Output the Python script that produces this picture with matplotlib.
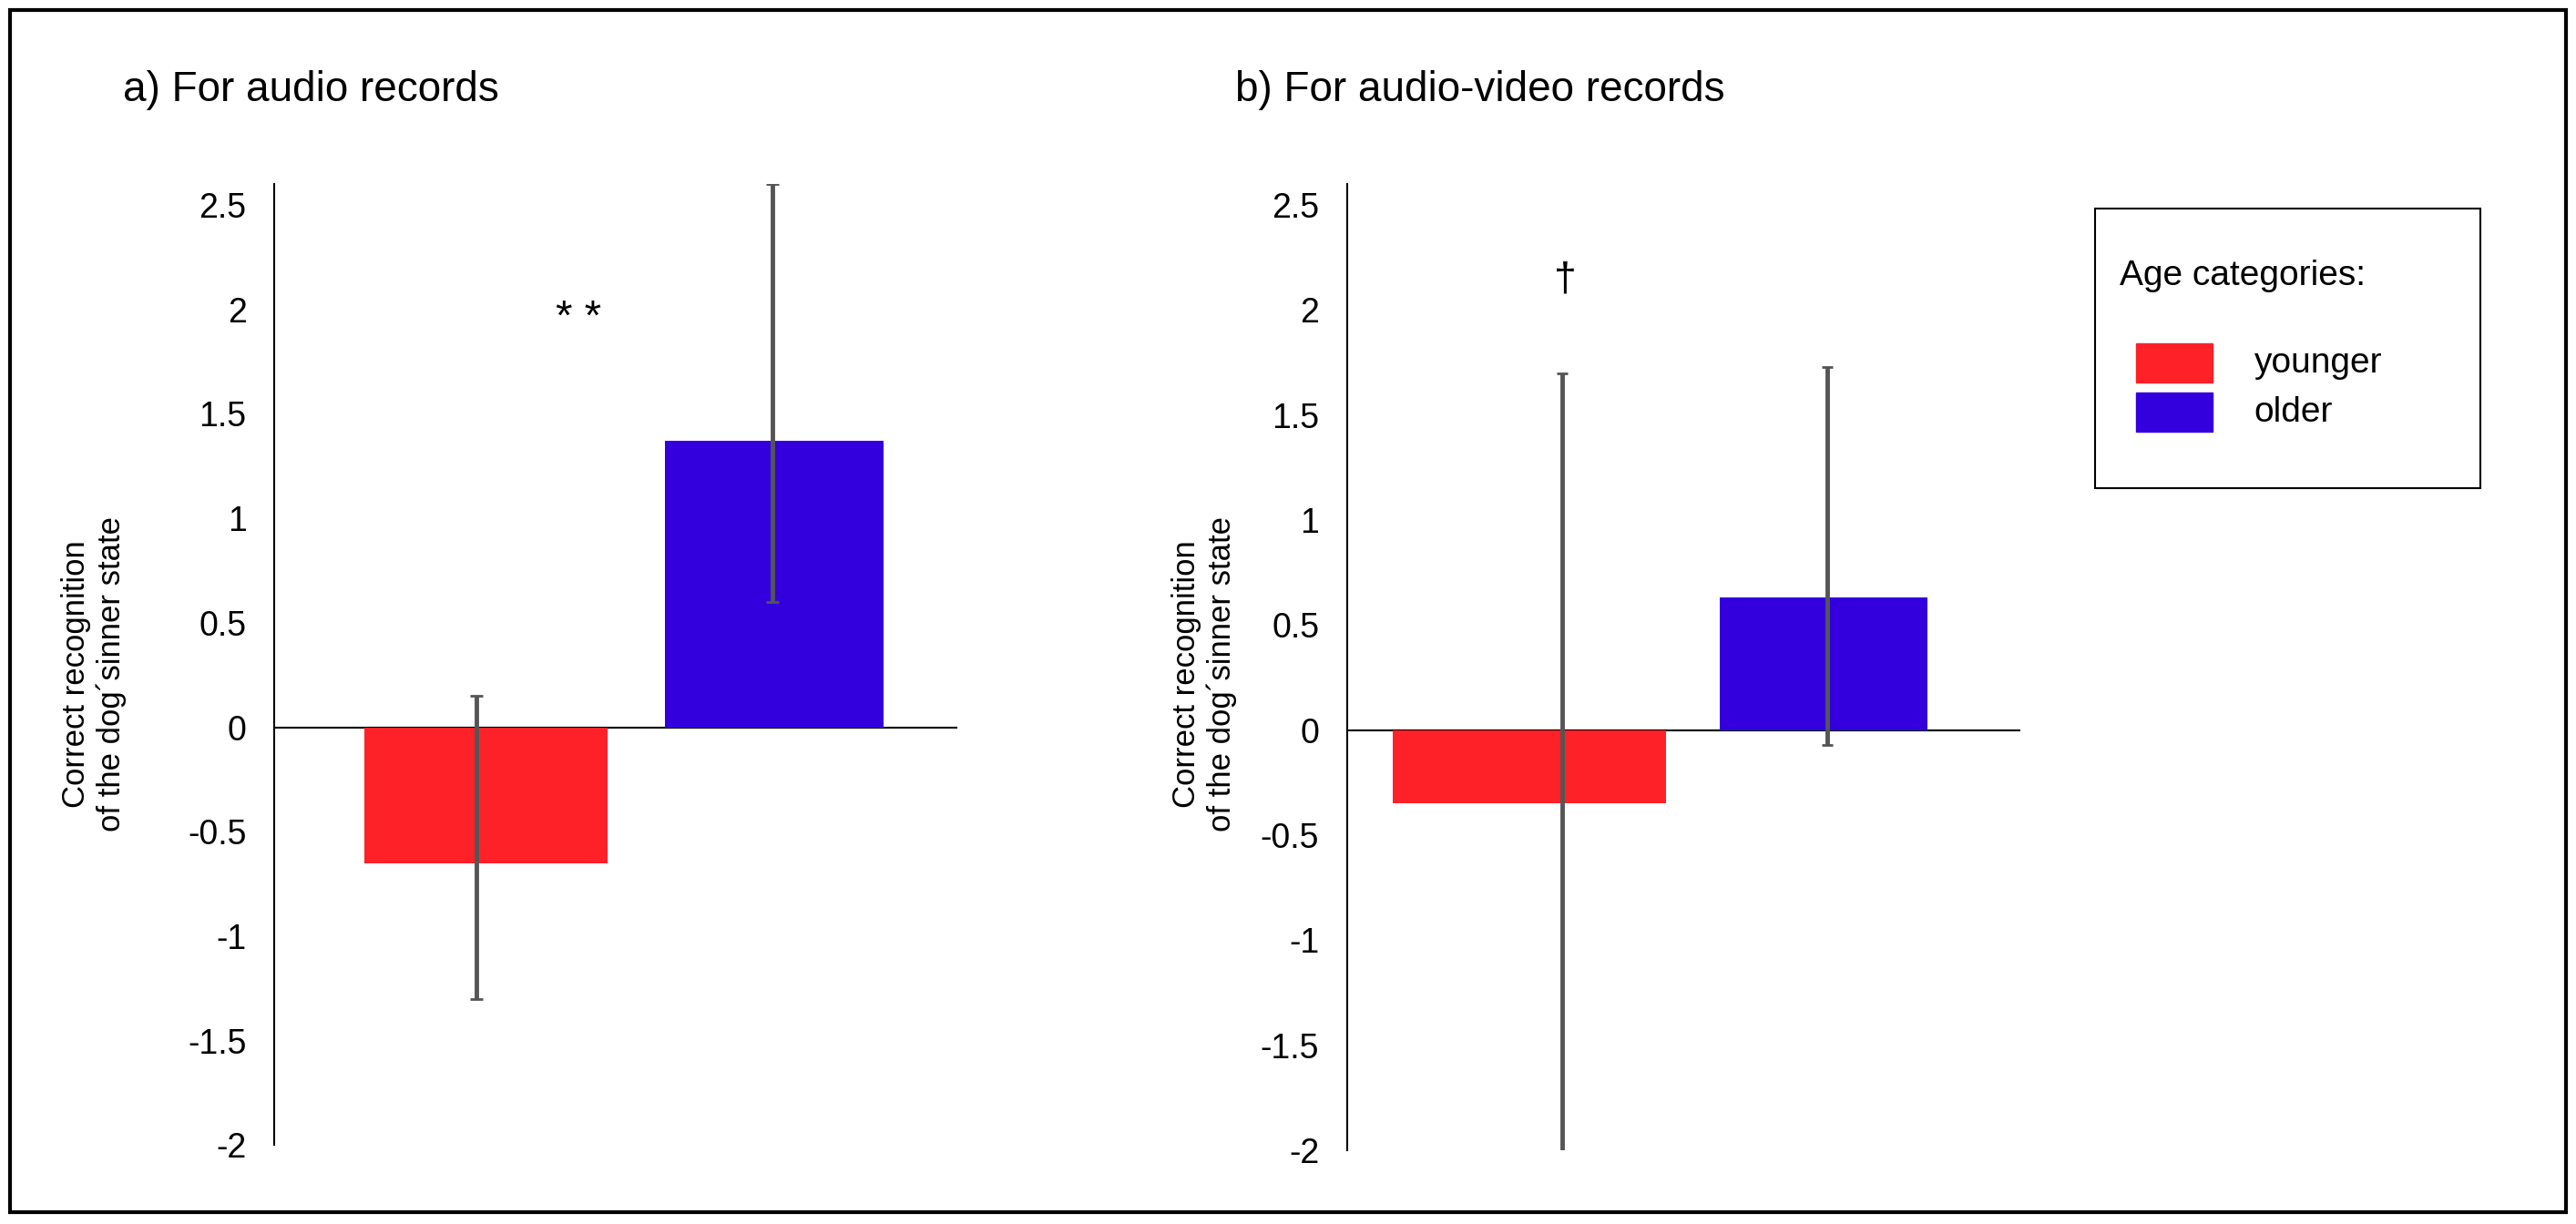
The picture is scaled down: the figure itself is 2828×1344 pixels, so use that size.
import matplotlib.pyplot as plt
from matplotlib.patches import Rectangle

# data
groups = ["younger", "older"]
audio_means = [-0.65, 1.37]
audio_lo = [-1.30, 0.60]
audio_hi = [0.15, 2.60]
av_means = [-0.35, 0.63]
av_lo = [-2.02, -0.07]
av_hi = [1.70, 1.73]
colors = ["#ff2128", "#3300dd"]
yticks = [-2, -1.5, -1, -0.5, 0, 0.5, 1, 1.5, 2, 2.5]
ytick_labels = ["-2", "-1.5", "-1", "-0.5", "0", "0.5", "1", "1.5", "2", "2.5"]

W, H = 1568, 745
plt.rcParams['font.family'] = ['Liberation Sans', 'DejaVu Sans']
fig = plt.figure(figsize=(28.28, 13.44), dpi=100)


def fx(px):
    return px / W


def fy(py):
    return 1 - py / H


def panel(left, right, bottom_px, top_px, means, lo, hi, bar_edges, err_x, capsize):
    ax = fig.add_axes([fx(left), fy(bottom_px), fx(right) - fx(left), fy(top_px) - fy(bottom_px)])
    for (x0, x1), m, c in zip(bar_edges, means, colors):
        ax.bar((x0 + x1) / 2, m, width=x1 - x0, color=c, zorder=2)
    for x, m, l, h in zip(err_x, means, lo, hi):
        ax.errorbar(x, m, yerr=[[m - l], [h - m]], fmt='none', ecolor='#555555',
                    elinewidth=3.5, capsize=capsize, capthick=2, zorder=3)
    ax.axhline(0, color='black', lw=1.5, zorder=1)
    ax.set_xlim(left, right)
    ax.set_ylim(-2, 2.6)
    ax.set_xticks([])
    ax.set_yticks(yticks)
    ax.set_yticklabels(ytick_labels, fontsize=27)
    ax.tick_params(axis='y', length=0, pad=22)
    for s in ['top', 'right', 'bottom']:
        ax.spines[s].set_visible(False)
    ax.spines['left'].set_linewidth(1.5)
    return ax


panel(167, 583, 697, 112, audio_means, audio_lo, audio_hi,
      [(222, 370), (405, 538)], [290, 470], 5)
panel(820, 1230, 700, 112, av_means, av_lo, av_hi,
      [(848, 1014), (1047, 1173)], [951, 1112], 4)

fig.text(fx(75), fy(55), "a) For audio records", fontsize=33, va='center')
fig.text(fx(752), fy(55), "b) For audio-video records", fontsize=33, va='center')
ylab = "Correct recognition\nof the dog\u00b4sinner state"
fig.text(fx(57), fy(410), ylab, rotation=90, fontsize=25, ha='center', va='center')
fig.text(fx(733), fy(410), ylab, rotation=90, fontsize=25, ha='center', va='center')
fig.text(fx(352), fy(194), "* *", fontsize=34, ha='center', va='center')
fig.text(fx(953), fy(170), "\u2020", fontsize=32, ha='center', va='center')

# legend box
fig.patches.append(Rectangle((fx(1275), fy(297)), fx(1510) - fx(1275), fy(127) - fy(297),
                             transform=fig.transFigure, fill=False, ec='black', lw=1.5))
fig.text(fx(1290), fy(168), "Age categories:", fontsize=28, va='center')
for i, (g, c) in enumerate(zip(groups, colors)):
    yc = 221 + i * 30
    fig.patches.append(Rectangle((fx(1300), fy(yc + 12)), fx(1347) - fx(1300), fy(yc - 12) - fy(yc + 12),
                                 transform=fig.transFigure, color=c))
    fig.text(fx(1372), fy(yc), g, fontsize=28, va='center')

# outer border
fig.patches.append(Rectangle((fx(6), fy(738)), fx(1562) - fx(6), fy(6) - fy(738),
                             transform=fig.transFigure, fill=False, ec='black', lw=3))

fig.savefig("out.png", dpi=100)
